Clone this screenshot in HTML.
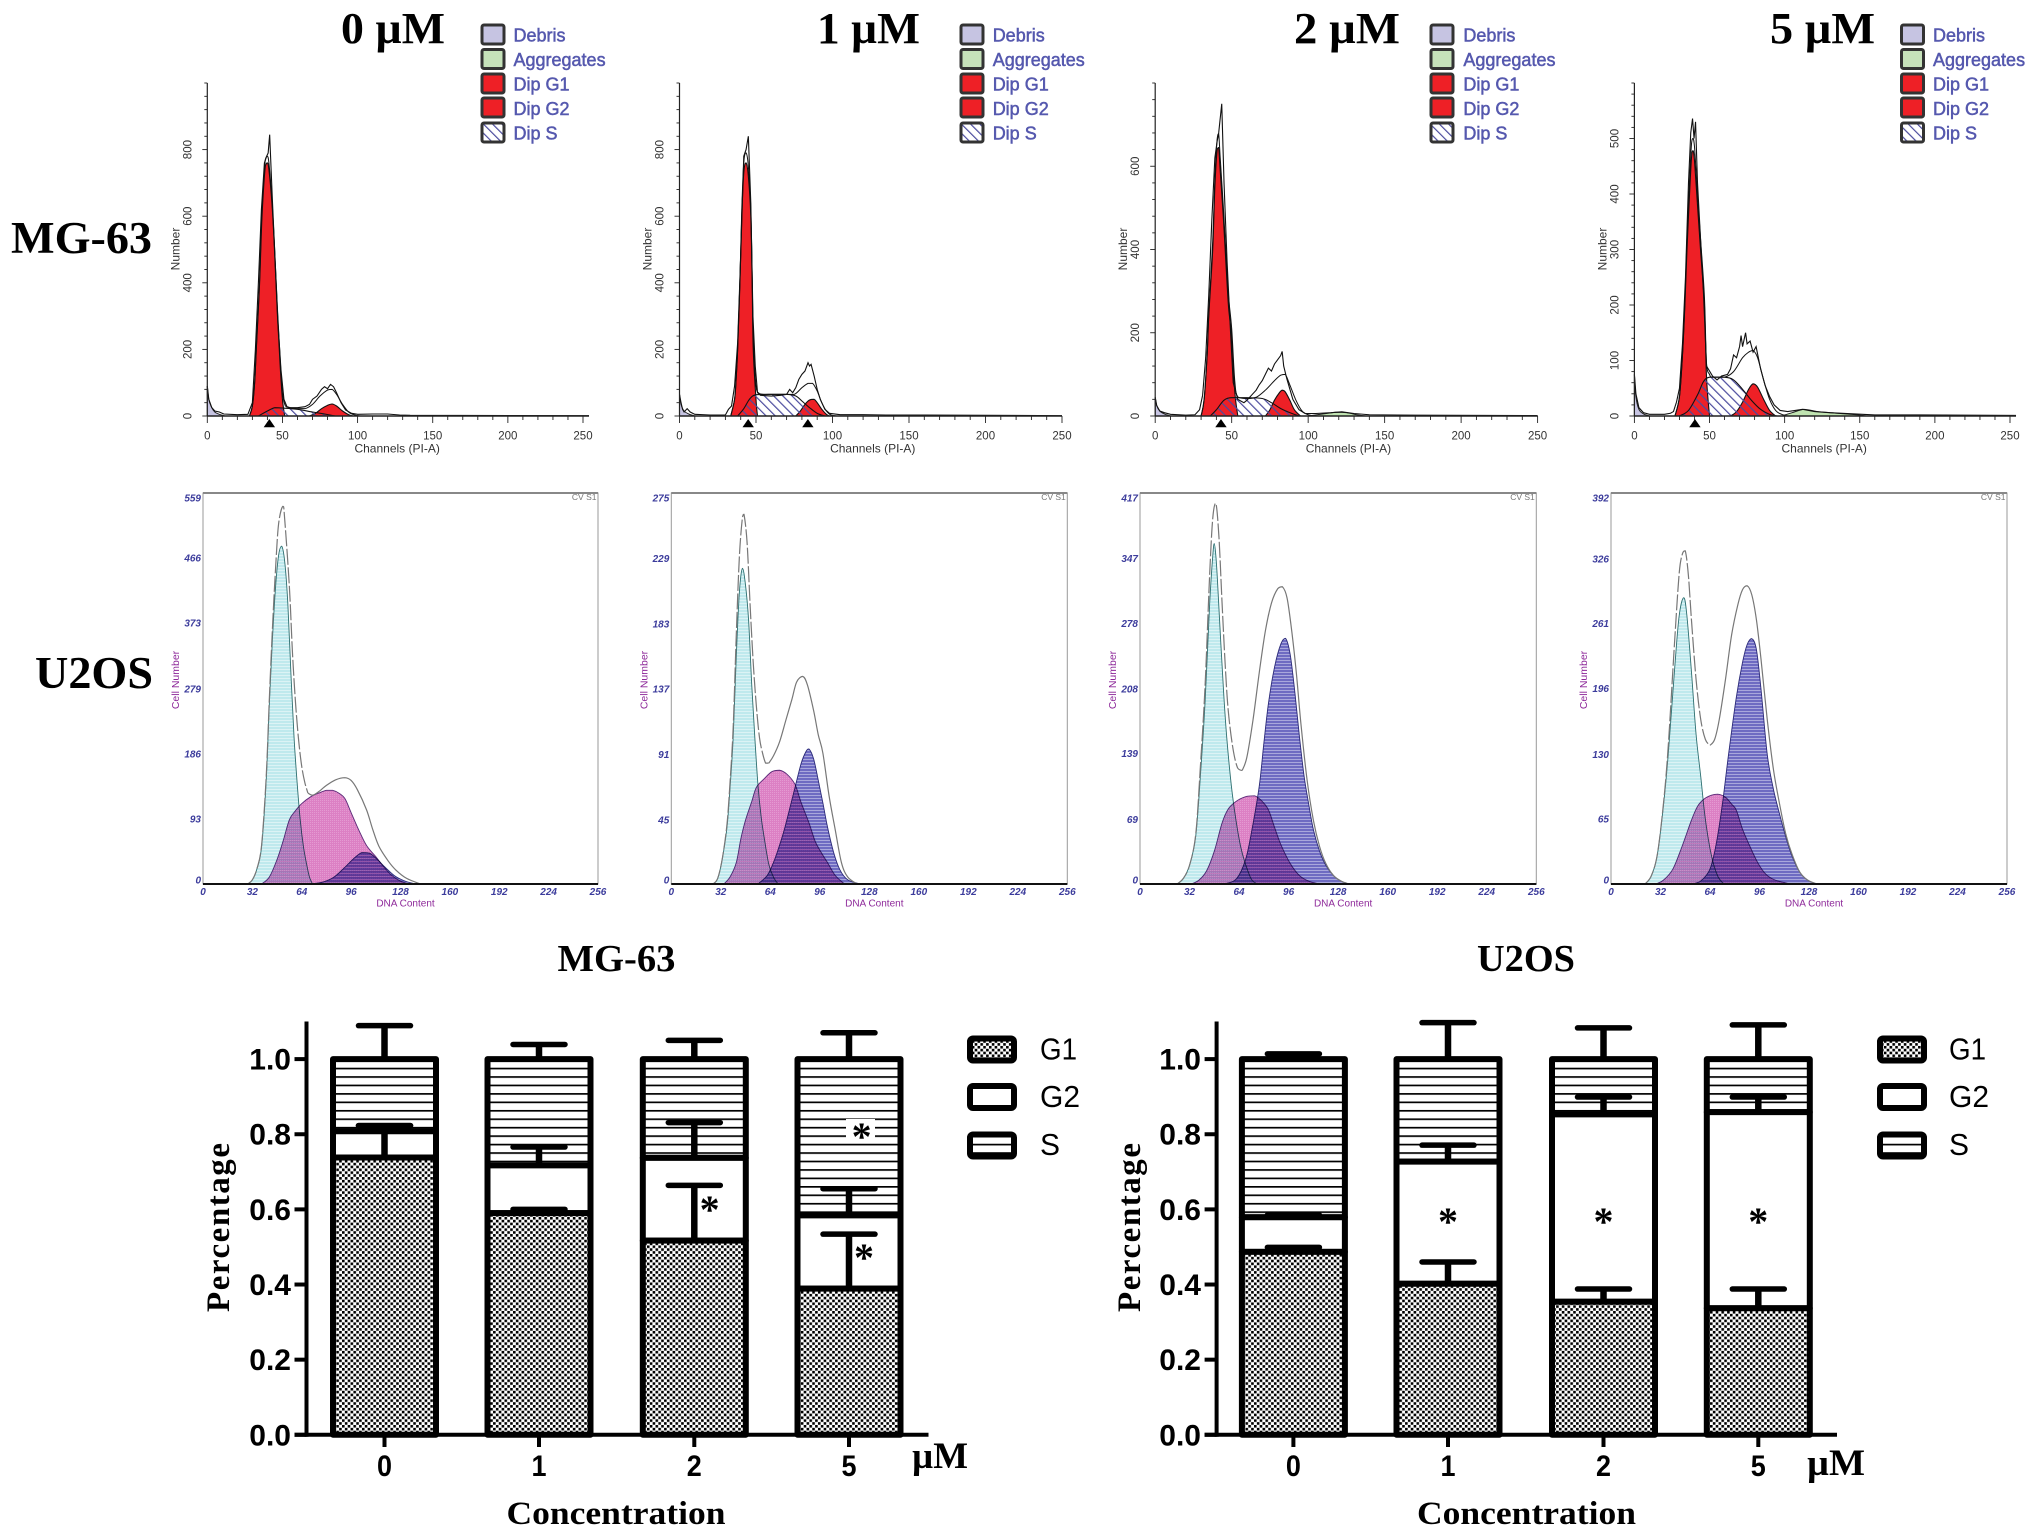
<!DOCTYPE html>
<html lang="en">
<head>
<meta charset="utf-8">
<title>Cell cycle distribution in MG-63 and U2OS cells</title>
<style>
html,body{margin:0;padding:0;background:#fff;}
svg{display:block;}
.serif{font-family:"Liberation Serif",serif;font-weight:bold;fill:#000;}
.sans{font-family:"Liberation Sans",sans-serif;}
.leg{font-family:"Liberation Sans",sans-serif;font-size:18px;fill:#5558ae;stroke:#5558ae;stroke-width:.5px;}
.barlabel{font-family:"Liberation Sans",sans-serif;font-weight:bold;fill:#000;}
.barleg{font-family:"Liberation Sans",sans-serif;font-size:31px;fill:#000;}
.ast{font-family:"Liberation Serif",serif;font-weight:bold;font-size:40px;text-anchor:middle;fill:#000;}
.mul{mix-blend-mode:multiply;}
</style>
</head>
<body>
<svg id="figure" xmlns="http://www.w3.org/2000/svg" width="2031" height="1538" viewBox="0 0 2031 1538">
<defs>
  <pattern id="checker" patternUnits="userSpaceOnUse" width="5.7" height="5.7">
    <rect width="5.7" height="5.7" fill="#fff"/>
    <rect width="2.6" height="2.6" fill="#000"/>
    <rect x="2.85" y="2.85" width="2.6" height="2.6" fill="#000"/>
  </pattern>
  <pattern id="stripes" patternUnits="userSpaceOnUse" width="10" height="8.45" y="1067.7">
    <rect width="10" height="8.45" fill="#fff"/>
    <rect width="10" height="1.7" fill="#000"/>
  </pattern>
  <pattern id="hatch" patternUnits="userSpaceOnUse" width="6.5" height="6.5" patternTransform="rotate(-45)">
    <rect x="0" width="1.2" height="6.5" fill="#4b4b9e"/>
  </pattern>
  <pattern id="teal" patternUnits="userSpaceOnUse" width="4" height="3">
    <rect width="4" height="3" fill="#bfe9ed"/>
    <rect width="4" height="1" fill="#dcf3f5"/>
  </pattern>
  <pattern id="magenta" patternUnits="userSpaceOnUse" width="2" height="2">
    <rect width="2" height="2" fill="#dc80c4"/>
    <rect width="1" height="1" fill="#e49ad2"/>
  </pattern>
  <pattern id="blue" patternUnits="userSpaceOnUse" width="3" height="3">
    <rect width="3" height="3" fill="#6e6bc2"/>
    <rect width="3" height="1" fill="#a9a7dc"/>
  </pattern>
</defs>
<rect width="2031" height="1538" fill="#fff"/>

<!-- column and row headings -->
<text class="serif" x="341" y="43" font-size="44" textLength="104" lengthAdjust="spacingAndGlyphs">0 µM</text>
<text class="serif" x="817" y="43" font-size="44" textLength="103" lengthAdjust="spacingAndGlyphs">1 µM</text>
<text class="serif" x="1294" y="43" font-size="44" textLength="106" lengthAdjust="spacingAndGlyphs">2 µM</text>
<text class="serif" x="1770" y="43" font-size="44" textLength="105" lengthAdjust="spacingAndGlyphs">5 µM</text>
<text class="serif" x="11" y="253" font-size="45" textLength="141" lengthAdjust="spacingAndGlyphs">MG-63</text>
<text class="serif" x="35" y="688" font-size="45" textLength="118" lengthAdjust="spacingAndGlyphs">U2OS</text>

<!-- flow cytometry legends -->
<g stroke="#333" stroke-width="3">
  <rect x="482" y="25" width="22" height="19" rx="2" fill="#c6c4e2"/>
  <rect x="482" y="49.500" width="22" height="19" rx="2" fill="#c6e2ba"/>
  <rect x="482" y="74" width="22" height="19" rx="2" fill="#ee2026"/>
  <rect x="482" y="98" width="22" height="19" rx="2" fill="#ee2026"/>
  <rect x="482" y="123" width="22" height="19" rx="2" fill="url(#hatch)"/>
  <g stroke="none">
    <text class="leg" x="513.500" y="41.500">Debris</text>
    <text class="leg" x="513.500" y="66">Aggregates</text>
    <text class="leg" x="513.500" y="90.500">Dip G1</text>
    <text class="leg" x="513.500" y="115">Dip G2</text>
    <text class="leg" x="513.500" y="139.500">Dip S</text>
  </g>
</g>
<g stroke="#333" stroke-width="3">
  <rect x="961" y="25" width="22" height="19" rx="2" fill="#c6c4e2"/>
  <rect x="961" y="49.500" width="22" height="19" rx="2" fill="#c6e2ba"/>
  <rect x="961" y="74" width="22" height="19" rx="2" fill="#ee2026"/>
  <rect x="961" y="98" width="22" height="19" rx="2" fill="#ee2026"/>
  <rect x="961" y="123" width="22" height="19" rx="2" fill="url(#hatch)"/>
  <g stroke="none">
    <text class="leg" x="992.700" y="41.500">Debris</text>
    <text class="leg" x="992.700" y="66">Aggregates</text>
    <text class="leg" x="992.700" y="90.500">Dip G1</text>
    <text class="leg" x="992.700" y="115">Dip G2</text>
    <text class="leg" x="992.700" y="139.500">Dip S</text>
  </g>
</g>
<g stroke="#333" stroke-width="3">
  <rect x="1431" y="25" width="22" height="19" rx="2" fill="#c6c4e2"/>
  <rect x="1431" y="49.500" width="22" height="19" rx="2" fill="#c6e2ba"/>
  <rect x="1431" y="74" width="22" height="19" rx="2" fill="#ee2026"/>
  <rect x="1431" y="98" width="22" height="19" rx="2" fill="#ee2026"/>
  <rect x="1431" y="123" width="22" height="19" rx="2" fill="url(#hatch)"/>
  <g stroke="none">
    <text class="leg" x="1463.400" y="41.500">Debris</text>
    <text class="leg" x="1463.400" y="66">Aggregates</text>
    <text class="leg" x="1463.400" y="90.500">Dip G1</text>
    <text class="leg" x="1463.400" y="115">Dip G2</text>
    <text class="leg" x="1463.400" y="139.500">Dip S</text>
  </g>
</g>
<g stroke="#333" stroke-width="3">
  <rect x="1901.500" y="25" width="22" height="19" rx="2" fill="#c6c4e2"/>
  <rect x="1901.500" y="49.500" width="22" height="19" rx="2" fill="#c6e2ba"/>
  <rect x="1901.500" y="74" width="22" height="19" rx="2" fill="#ee2026"/>
  <rect x="1901.500" y="98" width="22" height="19" rx="2" fill="#ee2026"/>
  <rect x="1901.500" y="123" width="22" height="19" rx="2" fill="url(#hatch)"/>
  <g stroke="none">
    <text class="leg" x="1933" y="41.500">Debris</text>
    <text class="leg" x="1933" y="66">Aggregates</text>
    <text class="leg" x="1933" y="90.500">Dip G1</text>
    <text class="leg" x="1933" y="115">Dip G2</text>
    <text class="leg" x="1933" y="139.500">Dip S</text>
  </g>
</g>

<g id="mg-panels"></g>
<g id="u-panels"></g>
<g id="bars-left"></g>
<g id="bars-right"></g>

<!-- bar chart titles and axis titles -->
<text class="serif" x="557.500" y="971" font-size="38" textLength="118" lengthAdjust="spacingAndGlyphs">MG-63</text>
<text class="serif" x="1477" y="971" font-size="38" textLength="98" lengthAdjust="spacingAndGlyphs">U2OS</text>
<text class="serif" x="506.500" y="1524" font-size="33" textLength="219" lengthAdjust="spacingAndGlyphs">Concentration</text>
<text class="serif" x="1417" y="1524" font-size="33" textLength="219" lengthAdjust="spacingAndGlyphs">Concentration</text>
<text class="serif" transform="translate(229,1312) rotate(-90)" font-size="33" textLength="169" lengthAdjust="spacing">Percentage</text>
<text class="serif" transform="translate(1140,1312) rotate(-90)" font-size="33" textLength="169" lengthAdjust="spacing">Percentage</text>
<text class="serif" x="912" y="1468" font-size="37" textLength="56" lengthAdjust="spacingAndGlyphs">µM</text>
<text class="serif" x="1807" y="1475" font-size="37" textLength="58" lengthAdjust="spacingAndGlyphs">µM</text>

<!-- bar chart legends -->
<g>
  <rect x="970" y="1038.500" width="44" height="22" rx="3" fill="url(#checker)" stroke="#000" stroke-width="6"/>
  <rect x="970" y="1086" width="44" height="22" rx="3" fill="#fff" stroke="#000" stroke-width="6"/>
  <rect x="970" y="1134.500" width="44" height="22" rx="3" fill="url(#stripes)" stroke="#000" stroke-width="6"/>
  <text class="barleg" x="1040" y="1059.500" textLength="37" lengthAdjust="spacingAndGlyphs">G1</text>
  <text class="barleg" x="1040" y="1107" textLength="40" lengthAdjust="spacingAndGlyphs">G2</text>
  <text class="barleg" x="1040" y="1155" textLength="20" lengthAdjust="spacingAndGlyphs">S</text>
</g>
<g>
  <rect x="1880" y="1038.500" width="44" height="22" rx="3" fill="url(#checker)" stroke="#000" stroke-width="6"/>
  <rect x="1880" y="1086" width="44" height="22" rx="3" fill="#fff" stroke="#000" stroke-width="6"/>
  <rect x="1880" y="1134.500" width="44" height="22" rx="3" fill="url(#stripes)" stroke="#000" stroke-width="6"/>
  <text class="barleg" x="1949" y="1059.500" textLength="37" lengthAdjust="spacingAndGlyphs">G1</text>
  <text class="barleg" x="1949" y="1107" textLength="40" lengthAdjust="spacingAndGlyphs">G2</text>
  <text class="barleg" x="1949" y="1155" textLength="20" lengthAdjust="spacingAndGlyphs">S</text>
</g>

<!-- significance marks -->
<g>
  <rect x="846" y="1119" width="29" height="22" fill="#fff"/>
  <text class="ast" x="709.600" y="1223">*</text>
  <text class="ast" x="864" y="1271">*</text>
  <text class="ast" x="861.600" y="1150">*</text>
  <text class="ast" x="1448" y="1235">*</text>
  <text class="ast" x="1603.500" y="1235">*</text>
  <text class="ast" x="1758.300" y="1235">*</text>
</g>

<script>
/* ---------- Stacked bar data (fractions) ---------- */
const barCategories = ['0', '1', '2', '5'];
const barYTicks = [0, 0.2, 0.4, 0.6, 0.8, 1.0];
const mgBarG1 = [0.738, 0.590, 0.517, 0.389];
const mgBarG2 = [0.070, 0.127, 0.220, 0.195];
const mgBarS = [0.192, 0.283, 0.263, 0.416];
const mgErrG1 = [0.085, 0.010, 0.147, 0.145];
const mgErrG2 = [0.015, 0.049, 0.094, 0.071];
const mgErrS = [0.089, 0.039, 0.050, 0.070];
const uBarG1 = [0.487, 0.402, 0.354, 0.337];
const uBarG2 = [0.092, 0.325, 0.499, 0.522];
const uBarS = [0.421, 0.273, 0.147, 0.141];
const uErrG1 = [0.012, 0.058, 0.034, 0.051];
const uErrG2 = [0.006, 0.044, 0.046, 0.040];
const uErrS = [0.014, 0.097, 0.083, 0.091];

/* ---------- MG-63 histograms: [channel, count] ---------- */
const mgXTicks = [0, 50, 100, 150, 200, 250];
const mgYTicks0 = [0, 200, 400, 600, 800];
const mgYTicks1 = [0, 200, 400, 600, 800];
const mgYTicks2 = [0, 200, 400, 600];
const mgYTicks3 = [0, 100, 200, 300, 400, 500];
const mgYMax = [1000, 1000, 800, 600];
const mgMinorStep = [40, 40, 40, 20];
const mgMarkers0 = [41.3];
const mgMarkers1 = [44.9, 83.9];
const mgMarkers2 = [43];
const mgMarkers3 = [40.3];

const mg0Debris = [[0,90],[1,50],[3,25],[5,12],[8,5],[12,0]];
const mg0Aggregates = [];
const mg0G1 = [[28,0],[30,30],[31.5,100],[32.6,200],[34.8,400],[36.4,600],[38.6,750],[40,760],[41,740],[43,640],[44.5,520],[46.7,300],[48.5,150],[50,50],[51.5,0]];
const mg0G2 = [[68,0],[72,8],[76,22],[80,32],[83,36],[86,30],[90,15],[94,4],[97,0]];
const mg0S = [[34,0],[40,15],[45,25],[50,24],[60,20],[70,12],[78,6],[85,0]];
const mg0Fit = [[28,0],[30,30],[31.5,100],[32.6,200],[34.8,410],[36.4,620],[38.6,770],[40,780],[41,760],[43,650],[44.5,530],[46.7,320],[48.5,170],[50,70],[52,30],[55,25],[60,22],[65,22],[70,35],[75,60],[80,78],[83,80],[86,65],[90,35],[94,12],[98,3],[102,0]];
const mg0Raw = [[0,90],[1,50],[3,25],[5,15],[8,12],[11,6],[20,4],[27,5],[30,40],[32,200],[34,400],[36,620],[38,760],[39.5,780],[40.5,790],[41.5,845],[43.2,660],[45,480],[47,280],[49,140],[51,50],[53,28],[55,25],[60,25],[65,28],[68,35],[70,50],[73,60],[76,80],[78,88],[80,82],[82,95],[84,88],[86,70],[89,40],[92,18],[96,8],[100,5],[110,6],[120,6],[128,3],[135,2],[254,1]];

const mg1Debris = [[0,65],[1,35],[3,15],[6,6],[10,0]];
const mg1Aggregates = [];
const mg1G1 = [[33.5,0],[36,50],[37,110],[38,200],[39.5,400],[40.7,600],[42,730],[43.5,760],[45,720],[46.6,600],[47.5,400],[48.2,200],[50,50],[51,0]];
const mg1G2 = [[76,0],[79,15],[82,35],[85,48],[88,50],[90,40],[93,20],[96,5],[98,0]];
const mg1S = [[38,0],[42,22],[46,52],[50,64],[58,65],[70,65],[76,60],[80,45],[85,25],[90,8],[95,0]];
const mg1Fit = [[33.5,0],[36,50],[37,110],[38,200],[39.5,410],[40.7,620],[42,760],[43.5,790],[45,750],[46.6,620],[47.5,420],[48.2,240],[50,90],[52,68],[55,65],[60,65],[68,65],[75,65],[80,85],[84,98],[87,98],[90,75],[93,40],[96,15],[99,3],[103,0]];
const mg1Raw = [[0,65],[1,40],[2,20],[3,12],[5,22],[7,12],[10,5],[20,3],[30,3],[32,20],[34,30],[36,90],[38,220],[40,480],[42,780],[43.5,800],[45,840],[46.6,640],[48,300],[49.5,150],[51,70],[53,62],[60,60],[66,62],[70,65],[72,80],[74,70],[76,85],[78,110],[80,125],[82,135],[84,160],[85,150],[86,155],[88,120],[90,80],[92,50],[95,20],[98,8],[105,4],[120,4],[135,3],[160,3],[250,1]];

const mg2Debris = [[0,45],[1,25],[3,12],[6,5],[10,0]];
const mg2Aggregates = [[100,0],[110,5],[118,9],[125,8],[133,2],[138,0]];
const mg2G1 = [[30,0],[32,40],[34,150],[35,240],[37.6,400],[39,550],[40.5,640],[41.5,645],[42.5,590],[44.5,480],[46.5,350],[48,260],[50,190],[52,60],[54,0]];
const mg2G2 = [[72,0],[75,15],[78,38],[81,55],[83,62],[85,58],[88,38],[91,15],[95,0]];
const mg2S = [[36,0],[40,15],[45,38],[50,44],[60,44],[70,42],[76,32],[82,18],[88,8],[94,0]];
const mg2Fit = [[30,0],[32,40],[34,150],[35,245],[37.6,420],[39,570],[40.5,665],[41.5,678],[42.5,620],[44.5,505],[46.5,375],[48,285],[50,210],[52,85],[54,46],[60,42],[66,45],[72,62],[78,85],[82,98],[85,100],[88,75],[92,38],[96,12],[100,3],[104,0]];
const mg2Raw = [[0,45],[1,25],[3,12],[6,8],[10,4],[20,2],[26,3],[29,15],[31,50],[33,140],[35,290],[37,470],[39,620],[40.5,660],[41.5,680],[43.5,750],[45,560],[47,370],[49,220],[51,80],[54,40],[58,32],[60,38],[63,50],[66,62],[68,75],[70,85],[72,100],[74,115],[76,108],[78,125],[80,135],[82,145],[83,155],[84,120],[86,90],[88,65],[90,40],[94,15],[98,6],[105,6],[115,8],[122,10],[130,6],[140,3],[170,2],[250,1]];

const mg3Debris = [[0,75],[1,35],[3,12],[6,4],[10,0]];
const mg3Aggregates = [[98,0],[105,6],[113,12],[122,8],[130,6],[145,3],[155,0]];
const mg3G1 = [[27,0],[30,35],[32,110],[33.6,200],[35,300],[36.7,400],[38,465],[39,478],[40,460],[42,380],[44,300],[46.6,200],[48,70],[50,0]];
const mg3G2 = [[64,0],[68,8],[72,25],[76,48],[79,58],[82,52],[86,30],[90,10],[94,0]];
const mg3S = [[30,0],[36,10],[42,38],[46,62],[50,70],[60,70],[66,65],[72,48],[78,28],[84,12],[90,3],[95,0]];
const mg3Fit = [[27,0],[30,35],[32,110],[33.6,205],[35,320],[36.7,425],[38,490],[39,500],[40,485],[42,400],[44,320],[46.6,215],[48,95],[50,75],[52,70],[60,70],[66,80],[72,105],[76,115],[79,118],[82,105],[86,65],[90,30],[94,10],[98,3],[102,0]];
const mg3Raw = [[0,75],[1,40],[3,15],[6,6],[10,3],[20,3],[24,5],[26,8],[28,25],[30,50],[32,130],[34,250],[36,420],[37.5,510],[38.7,536],[39.7,500],[40.7,530],[42,420],[44,320],[46,220],[48,90],[52,72],[55,65],[58,72],[62,75],[64,85],[66,110],[68,105],[70,125],[71,145],[72,125],[74,150],[75,130],[77,135],[79,115],[81,125],[84,85],[87,55],[90,35],[93,20],[97,10],[102,8],[112,12],[120,8],[130,6],[145,4],[160,2],[190,2],[254,1]];

/* ---------- U2OS histograms: [channel, count] ---------- */
const uXTicks = [0, 32, 64, 96, 128, 160, 192, 224, 256];
const uYTicks0 = [0, 93, 186, 279, 373, 466, 559];
const uYTicks1 = [0, 45, 91, 137, 183, 229, 275];
const uYTicks2 = [0, 69, 139, 208, 278, 347, 417];
const uYTicks3 = [0, 65, 130, 196, 261, 326, 392];

const u0G1 = [[29,0],[32,6],[35,22],[38,54],[41,150],[43,258],[45,350],[47,424],[49,470],[51,483],[53,460],[55,400],[57,300],[59,210],[61,145],[63,92],[65,55],[67,30],[69,10],[71,0]];
const u0S = [[38,0],[43,10],[48,35],[52,62],[56,92],[60,105],[64,115],[70,125],[75,130],[80,134],[84,134],[88,130],[92,122],[96,102],[101,77],[106,55],[112,39],[117,25],[122,13],[128,4],[134,0]];
const u0G2 = [[70,0],[78,3],[85,10],[92,24],[98,37],[103,45],[108,44],[113,35],[118,24],[124,12],[130,5],[136,1],[140,0]];
const u0FitPeak = [[29,0],[32,6],[35,22],[38,56],[41,155],[43,265],[45,365],[47,450],[49,515],[51.8,540],[53,520],[56,424],[58,330],[60,258],[62,205],[64,168],[66,145],[68,130]];
const u0FitTail = [[68,130],[71,127],[75,132],[80,141],[86,149],[92,152],[96,148],[100,135],[106,106],[110,78],[114,54],[120,33],[125,20],[132,8],[141,0]];

const u1G1 = [[27,0],[30,4],[33,18],[36,40],[38,68],[40,103],[42,160],[44,205],[46,222],[48,210],[50,185],[52,140],[54,103],[56,70],[58,48],[60,33],[63,14],[66,5],[69,0]];
const u1S = [[34,0],[38,5],[42,15],[45,32],[48,45],[52,58],[55,68],[60,74],[65,79],[70,80],[75,77],[80,70],[84,57],[89,43],[93,30],[97,22],[101,15],[106,6],[112,0]];
const u1G2 = [[56,0],[62,6],[66,15],[69,24],[73,38],[77,55],[80,68],[84,85],[87,93],[89,95],[92,88],[95,73],[98,57],[101,40],[105,22],[109,10],[114,3],[122,0]];
const u1FitPeak = [[27,0],[30,4],[33,18],[36,42],[38,72],[40,110],[42,175],[44,230],[46,258],[47,260],[49,240],[51,195],[53,155],[55,125],[57,103],[59,92],[61,85],[63,85]];
const u1FitTail = [[63,85],[66,90],[70,100],[74,115],[78,130],[81,142],[85,146],[88,140],[92,122],[95,105],[98,92],[102,62],[106,38],[110,15],[114,5],[120,0]];

const u2G1 = [[24,0],[28,6],[32,20],[36,51],[39,115],[42,193],[45,299],[47,350],[48,363],[49,350],[50,325],[52,263],[54,205],[56,157],[59,105],[62,68],[65,40],[68,22],[72,5],[76,0]];
const u2S = [[33,0],[38,4],[43,14],[48,35],[53,65],[57,80],[62,88],[68,93],[74,94],[79,88],[83,79],[87,60],[91,42],[97,22],[103,9],[109,3],[116,0]];
const u2G2 = [[54,0],[62,5],[68,25],[72,55],[77,104],[80,150],[83,193],[87,232],[91,256],[94,262],[97,245],[100,205],[103,157],[106,115],[109,85],[112,58],[116,35],[120,20],[125,9],[130,3],[135,0]];
const u2FitPeak = [[24,0],[28,6],[32,20],[36,53],[39,125],[42,210],[45,330],[47,390],[49,406],[51,370],[53,300],[55,235],[57,185],[60,145],[63,124],[66,121]];
const u2FitTail = [[66,121],[69,135],[73,175],[77,225],[81,270],[85,300],[89,315],[92,317],[95,305],[98,270],[101,225],[104,170],[108,110],[112,68],[116,40],[120,22],[125,9],[130,3],[135,0]];

const u3G1 = [[22,0],[26,8],[30,30],[34,80],[37,130],[41,213],[44,268],[47,287],[49,270],[52,213],[55,150],[58,108],[61,65],[65,28],[69,8],[73,0]];
const u3S = [[29,0],[34,4],[40,15],[46,38],[52,64],[56,78],[60,85],[65,89],[69,90],[74,87],[78,80],[81,74],[85,55],[90,37],[95,21],[100,10],[106,4],[116,0]];
const u3G2 = [[52,0],[58,3],[64,15],[68,40],[72,80],[76,130],[81,187],[85,222],[88,240],[91,246],[94,235],[97,195],[101,130],[105,95],[109,70],[113,47],[117,28],[122,12],[127,4],[133,0]];
const u3FitPeak = [[22,0],[26,8],[30,30],[34,82],[37,138],[41,240],[44,310],[46,330],[48,334],[50,310],[52,265],[55,205],[58,165],[61,145],[64,139]];
const u3FitTail = [[64,139],[67,145],[70,165],[74,205],[78,250],[82,280],[85,295],[88,299],[91,290],[94,265],[97,225],[101,165],[105,115],[109,80],[113,50],[117,30],[122,12],[127,4],[133,0]];

/* ---------- helpers ---------- */
const NS = 'http://www.w3.org/2000/svg';
function add(tag, attrs, parent, text) {
  const node = document.createElementNS(NS, tag);
  for (const k in attrs) node.setAttribute(k, attrs[k]);
  if (text !== undefined) node.textContent = text;
  parent.appendChild(node);
  return node;
}
function clampBetween(v, a, b) { return Math.max(Math.min(a, b), Math.min(Math.max(a, b), v)); }
function smoothPath(points, sx, sy) {
  if (!points.length) return '';
  const p = points.map(d => [sx(d[0]), sy(d[1])]);
  let s = 'M' + p[0][0].toFixed(2) + ' ' + p[0][1].toFixed(2);
  for (let i = 0; i < p.length - 1; i++) {
    const a = p[Math.max(i - 1, 0)], b = p[i], c = p[i + 1], d = p[Math.min(i + 2, p.length - 1)];
    const c1x = b[0] + (c[0] - a[0]) / 6;
    const c1y = clampBetween(b[1] + (c[1] - a[1]) / 6, b[1], c[1]);
    const c2x = c[0] - (d[0] - b[0]) / 6;
    const c2y = clampBetween(c[1] - (d[1] - b[1]) / 6, b[1], c[1]);
    s += 'C' + c1x.toFixed(2) + ' ' + c1y.toFixed(2) + ' ' + c2x.toFixed(2) + ' ' + c2y.toFixed(2) + ' ' + c[0].toFixed(2) + ' ' + c[1].toFixed(2);
  }
  return s;
}
function linePath(points, sx, sy) {
  return points.map((d, i) => (i ? 'L' : 'M') + sx(d[0]).toFixed(2) + ' ' + sy(d[1]).toFixed(2)).join('');
}
function areaPath(points, sx, sy) {
  if (!points.length) return '';
  const first = points[0][0], last = points[points.length - 1][0];
  return smoothPath(points, sx, sy) + 'L' + sx(last).toFixed(2) + ' ' + sy(0).toFixed(2) + 'L' + sx(first).toFixed(2) + ' ' + sy(0).toFixed(2) + 'Z';
}

/* ---------- MG-63 panels ---------- */
const mgTop = 83, mgBase = 416;
const mgLeft = [207.3, 679.5, 1155.2, 1634.4];
const mgRight = [583, 1062, 1537.6, 2010];
const mgEnd = [254, 250, 250, 254];
const mgSeries = [
  {debris: mg0Debris, agg: mg0Aggregates, g1: mg0G1, g2: mg0G2, s: mg0S, fit: mg0Fit, raw: mg0Raw, yTicks: mgYTicks0, markers: mgMarkers0},
  {debris: mg1Debris, agg: mg1Aggregates, g1: mg1G1, g2: mg1G2, s: mg1S, fit: mg1Fit, raw: mg1Raw, yTicks: mgYTicks1, markers: mgMarkers1},
  {debris: mg2Debris, agg: mg2Aggregates, g1: mg2G1, g2: mg2G2, s: mg2S, fit: mg2Fit, raw: mg2Raw, yTicks: mgYTicks2, markers: mgMarkers2},
  {debris: mg3Debris, agg: mg3Aggregates, g1: mg3G1, g2: mg3G2, s: mg3S, fit: mg3Fit, raw: mg3Raw, yTicks: mgYTicks3, markers: mgMarkers3}
];
function drawMgPanel(i) {
  const root = document.getElementById('mg-panels');
  const d = mgSeries[i];
  const sx = c => mgLeft[i] + c * (mgRight[i] - mgLeft[i]) / 250;
  const sy = v => mgBase - v * (mgBase - mgTop) / mgYMax[i];
  const g = add('g', {}, root);
  
  

  const agg = add('path', {d: areaPath(d.agg, sx, sy), fill: '#bfe3b0', stroke: '#222', 'stroke-width': 1}, g);
  
  
  const deb = add('path', {d: areaPath(d.debris, sx, sy), fill: '#c6c4e2', stroke: '#222', 'stroke-width': 1}, g);
  
  
  const g1 = add('path', {d: areaPath(d.g1, sx, sy), fill: '#ee2026', stroke: '#111', 'stroke-width': 1.1}, g);
  
  
  const g2 = add('path', {d: areaPath(d.g2, sx, sy), fill: '#ee2026', stroke: '#111', 'stroke-width': 1.1}, g);
  
  
  const sp = add('path', {d: areaPath(d.s, sx, sy), fill: 'url(#hatch)', stroke: '#111', 'stroke-width': 1.1}, g);
  
  
  const fit = add('path', {d: smoothPath(d.fit, sx, sy), fill: 'none', stroke: '#111', 'stroke-width': 1}, g);
  
  
  const raw = add('path', {d: linePath(d.raw, sx, sy), fill: 'none', stroke: '#111', 'stroke-width': 1.1}, g);
  
  

  const axes = add('g', {stroke: '#222', fill: 'none'}, g);
  
  
  const yAxis = add('line', {x1: sx(0), x2: sx(0), y1: mgTop, y2: mgBase, 'stroke-width': 1.2}, axes);
  
  
  const xAxis = add('line', {x1: sx(0), x2: sx(mgEnd[i]), y1: mgBase, y2: mgBase, 'stroke-width': 1.6}, axes);
  
  
  for (let v = 0; v <= mgYMax[i]; v += mgMinorStep[i]) {
    add('line', {x1: sx(0) - (d.yTicks.indexOf(v) >= 0 ? 5 : 3), x2: sx(0), y1: sy(v), y2: sy(v), 'stroke-width': 0.9}, axes);
  }
  for (let c = 0; c <= 250; c += 10) {
    add('line', {x1: sx(c), x2: sx(c), y1: mgBase, y2: mgBase + (c % 50 === 0 ? 7 : 4), 'stroke-width': 0.9}, axes);
  }
  d.yTicks.forEach(v => {
    const t = add('text', {class: 'sans', 'font-size': 11.5, fill: '#333', 'text-anchor': 'middle', transform: 'translate(' + (sx(0) - 16) + ',' + sy(v) + ') rotate(-90)'}, g, String(v));
    
    
  });
  mgXTicks.forEach(c => {
    const t = add('text', {class: 'sans', 'font-size': 11.5, fill: '#333', 'text-anchor': 'middle', x: sx(c), y: 439.5}, g, String(c));
    
    
  });
  const xt = add('text', {class: 'sans', 'font-size': 12, fill: '#333', 'text-anchor': 'middle', x: (sx(0) + sx(250)) / 2 + 2, y: 452.5}, g, 'Channels (PI-A)');
  
  
  const yt = add('text', {class: 'sans', 'font-size': 12, fill: '#333', 'text-anchor': 'middle', transform: 'translate(' + (sx(0) - 28) + ',249) rotate(-90)'}, g, 'Number');
  
  
  d.markers.forEach(c => {
    const m = add('path', {d: 'M' + sx(c) + ' 419l5.700 8.300h-11.400z', fill: '#000'}, g);
    
    
  });
}
[0, 1, 2, 3].forEach(drawMgPanel);

/* ---------- U2OS panels ---------- */
const uTop = 493, uBase = 884;
const uLeft = [203, 671.3, 1140, 1611];
const uRight = [598, 1067.3, 1536.3, 2007];
const uSeries = [
  {g1: u0G1, s: u0S, g2: u0G2, peak: u0FitPeak, tail: u0FitTail, yTicks: uYTicks0},
  {g1: u1G1, s: u1S, g2: u1G2, peak: u1FitPeak, tail: u1FitTail, yTicks: uYTicks1},
  {g1: u2G1, s: u2S, g2: u2G2, peak: u2FitPeak, tail: u2FitTail, yTicks: uYTicks2},
  {g1: u3G1, s: u3S, g2: u3G2, peak: u3FitPeak, tail: u3FitTail, yTicks: uYTicks3}
];
function drawUPanel(i) {
  const root = document.getElementById('u-panels');
  const d = uSeries[i];
  const maxV = d.yTicks[d.yTicks.length - 1];
  const sx = c => uLeft[i] + c * (uRight[i] - uLeft[i]) / 256;
  const sy = v => uBase - v * (uBase - uTop) / maxV;
  const g = add('g', {style: 'isolation:isolate'}, root);
  
  

  const frame = add('rect', {x: uLeft[i], y: uTop, width: uRight[i] - uLeft[i], height: uBase - uTop, fill: '#fff', stroke: '#9a9a9a', 'stroke-width': 1}, g);
  
  
  const topEdge = add('line', {x1: uLeft[i], x2: uRight[i], y1: uTop, y2: uTop, stroke: '#888', 'stroke-width': 2}, g);
  
  

  const g1 = add('path', {d: areaPath(d.g1, sx, sy), fill: 'url(#teal)', stroke: '#2e6f70', 'stroke-width': 0.9, class: 'mul'}, g);
  
  
  const sp = add('path', {d: areaPath(d.s, sx, sy), fill: 'url(#magenta)', stroke: '#5b2a78', 'stroke-width': 0.9, class: 'mul'}, g);
  
  
  const g2 = add('path', {d: areaPath(d.g2, sx, sy), fill: 'url(#blue)', stroke: '#2b2a78', 'stroke-width': 0.9, class: 'mul'}, g);
  
  
  const peak = add('path', {d: smoothPath(d.peak, sx, sy), fill: 'none', stroke: '#777', 'stroke-width': 1.2, 'stroke-dasharray': '16 2.500'}, g);
  
  
  const tail = add('path', {d: smoothPath(d.tail, sx, sy), fill: 'none', stroke: '#777', 'stroke-width': 1.2}, g);
  
  

  const bottom = add('line', {x1: uLeft[i], x2: uRight[i], y1: uBase, y2: uBase, stroke: '#111', 'stroke-width': 2}, g);
  
  

  d.yTicks.forEach((v, k) => {
    const shift = k === 0 ? -4 : (k === d.yTicks.length - 1 ? 5 : 0);
    const t = add('text', {class: 'sans', 'font-size': 10, 'font-weight': 'bold', 'font-style': 'italic', fill: '#3c3c9c', 'text-anchor': 'end', x: uLeft[i] - 2, y: sy(v) + shift + 3.5}, g, String(v));
    
    
  });
  uXTicks.forEach(c => {
    const t = add('text', {class: 'sans', 'font-size': 10, 'font-weight': 'bold', 'font-style': 'italic', fill: '#3c3c9c', 'text-anchor': 'middle', x: sx(c), y: 895}, g, String(c));
    
    
  });
  const xt = add('text', {class: 'sans', 'font-size': 10, fill: '#8e2a9a', 'text-anchor': 'middle', x: (sx(0) + sx(256)) / 2 + 5, y: 906.5}, g, 'DNA Content');
  
  
  const yt = add('text', {class: 'sans', 'font-size': 10.5, fill: '#8e2a9a', 'text-anchor': 'middle', transform: 'translate(' + (uLeft[i] - 24) + ',680) rotate(-90)'}, g, 'Cell Number');
  
  
  const cv = add('text', {class: 'sans', 'font-size': 8.5, fill: '#777', 'text-anchor': 'end', x: uRight[i] - 1.500, y: 500}, g, 'CV S1');
  
  
}
[0, 1, 2, 3].forEach(drawUPanel);

/* ---------- Stacked bars ---------- */
const barZero = 1434.8, barUnit = 375.7;
function barY(v) { return barZero - barUnit * v; }
function drawBars(rootId, axisX, xEnd, labelRight, centers, g1s, g2s, ss, e1, e2, e3) {
  const root = document.getElementById(rootId);
  const halfWidth = 51.5;
  barCategories.forEach((cat, i) => {
    const cx = centers[i];
    const t1 = g1s[i], t2 = t1 + g2s[i], t3 = t2 + ss[i];
    const bar = add('g', {}, root);
    
    
    const common = {stroke: '#000', 'stroke-width': 6, 'stroke-linejoin': 'round'};
    const s3 = add('rect', Object.assign({x: cx - halfWidth, width: 2 * halfWidth, y: barY(t3), height: barY(t2) - barY(t3), fill: 'url(#stripes)'}, common), bar);
    
    
    const s2 = add('rect', Object.assign({x: cx - halfWidth, width: 2 * halfWidth, y: barY(t2), height: barY(t1) - barY(t2), fill: '#fff'}, common), bar);
    
    
    const s1 = add('rect', Object.assign({x: cx - halfWidth, width: 2 * halfWidth, y: barY(t1), height: barY(0) - barY(t1), fill: 'url(#checker)'}, common), bar);
    
    
    [[t1, e1[i]], [t2, e2[i]], [t3, e3[i]]].forEach(pair => {
      const top = barY(pair[0] + pair[1]);
      const stem = add('line', {x1: cx, x2: cx, y1: barY(pair[0]), y2: top, stroke: '#000', 'stroke-width': 6.5}, bar);
      
      
      const cap = add('line', {x1: cx - 26, x2: cx + 26, y1: top, y2: top, stroke: '#000', 'stroke-width': 5.5, 'stroke-linecap': 'round'}, bar);
      
      
    });
    const tick = add('line', {x1: cx, x2: cx, y1: barZero, y2: 1447, stroke: '#000', 'stroke-width': 4}, root);
    
    
    const lab = add('text', {class: 'barlabel', 'font-size': 30, 'text-anchor': 'middle', x: cx, y: 1476, textLength: 15, lengthAdjust: 'spacingAndGlyphs'}, root, cat);
    
    
  });
  const yAxis = add('line', {x1: axisX, x2: axisX, y1: barY(1.1), y2: barZero + 2, stroke: '#000', 'stroke-width': 4}, root);
  
  
  const xAxis = add('line', {x1: axisX - 12, x2: xEnd, y1: barZero, y2: barZero, stroke: '#000', 'stroke-width': 4}, root);
  
  
  barYTicks.forEach(v => {
    const tick = add('line', {x1: axisX - 12, x2: axisX, y1: barY(v), y2: barY(v), stroke: '#000', 'stroke-width': 4}, root);
    
    
    const lab = add('text', {class: 'barlabel', 'font-size': 30, 'text-anchor': 'end', x: labelRight, y: barY(v) + 10.5}, root, v.toFixed(1));
    
    
  });
}
drawBars('bars-left', 306.5, 928.5, 291, [384.5, 539, 694.3, 849], mgBarG1, mgBarG2, mgBarS, mgErrG1, mgErrG2, mgErrS);
drawBars('bars-right', 1216.6, 1837, 1201, [1293.4, 1448, 1603.5, 1758.3], uBarG1, uBarG2, uBarS, uErrG1, uErrG2, uErrS);
</script>
</svg>
</body>
</html>
